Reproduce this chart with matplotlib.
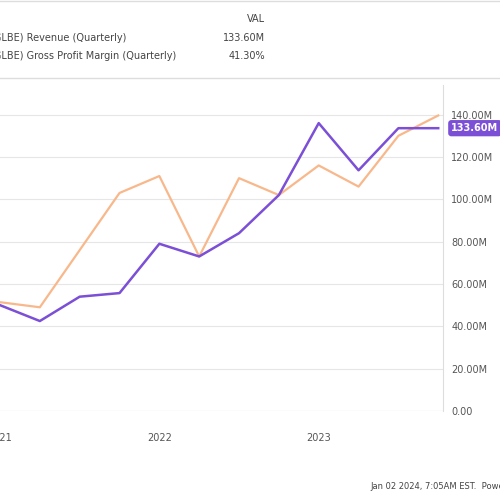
import matplotlib
matplotlib.use("Agg")
import matplotlib.pyplot as plt

dates = [2021.0 + 0.25 * i for i in range(12)]
revenue = [50, 42.5, 54, 55.7, 79, 73, 84, 102, 136, 113.7, 133.6, 133.6]
margin = [51.4, 49, 76, 103, 111, 73, 110, 102, 116, 106, 130, 139.6]
yticks = [0, 20, 40, 60, 80, 100, 120, 140]
ytick_labels = ["0.00", "20.00M", "40.00M", "60.00M", "80.00M", "100.00M", "120.00M", "140.00M"]
xticks = [2021, 2022, 2023]
xtick_labels = ["2021", "2022", "2023"]

purple = "#7b4fd6"
orange = "#f8b88b"
fig = plt.figure(figsize=(5, 5), dpi=100)
ax = fig.add_axes([0.0, 0.178, 0.886, 0.652])
ax.plot(dates, margin, color=orange, lw=1.6)
ax.plot(dates, revenue, color=purple, lw=1.8)
ax.set_xlim(2021.0, 2023.78)
ax.set_ylim(0, 154)
ax.set_yticks(yticks)
ax.set_yticklabels(ytick_labels)
ax.set_xticks(xticks)
ax.set_xticklabels(xtick_labels)
ax.yaxis.tick_right()
ax.tick_params(length=0, labelsize=7, colors="#555555", pad=6)
ax.tick_params(axis="x", pad=16)
ax.grid(axis="y", color="#e6e6e6", lw=0.8)
for s in ["top", "left", "bottom"]:
    ax.spines[s].set_visible(False)
ax.spines["right"].set_color("#dddddd")
ax.axhline(0, color="#dddddd", lw=0.8)
ax.annotate("133.60M", xy=(1.0, revenue[-1]), xycoords=("axes fraction", "data"),
            xytext=(6, 0), textcoords="offset points", va="center", ha="left",
            color="white", fontsize=7, fontweight="bold",
            bbox=dict(boxstyle="round,pad=0.25", fc=purple, ec=purple))

fig.add_artist(plt.Line2D([0, 1], [0.999, 0.999], color="#dddddd", lw=1))
fig.add_artist(plt.Line2D([0, 1], [0.845, 0.845], color="#dddddd", lw=1))
fig.text(0.53, 0.955, "VAL", fontsize=7, color="#444444", ha="right")
fig.text(-0.02, 0.918, "(GLBE) Revenue (Quarterly)", fontsize=7, color="#444444")
fig.text(0.53, 0.918, "133.60M", fontsize=7, color="#444444", ha="right")
fig.text(-0.02, 0.882, "(GLBE) Gross Profit Margin (Quarterly)", fontsize=7, color="#444444")
fig.text(0.53, 0.882, "41.30%", fontsize=7, color="#444444", ha="right")
fig.text(0.74, 0.022, "Jan 02 2024, 7:05AM EST.  Powered by YCHARTS", fontsize=6, color="#444444")
fig.savefig("out.png", dpi=100)
